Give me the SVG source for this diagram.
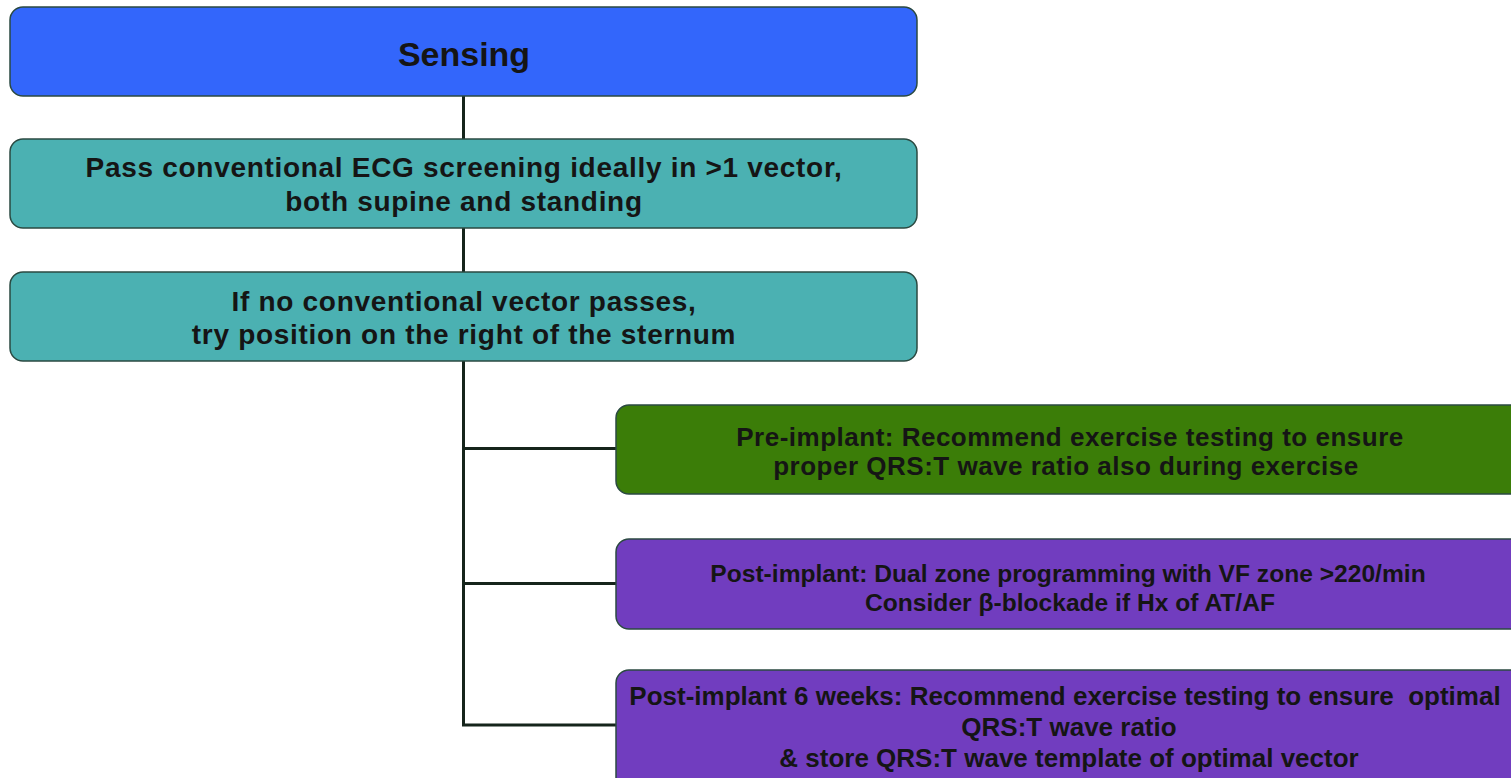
<svg xmlns="http://www.w3.org/2000/svg" width="1511" height="778" viewBox="0 0 1511 778">
<style>
.box{stroke:#2b4a42;stroke-width:1.5}
.t{font-family:"Liberation Sans",Arial,sans-serif;font-weight:bold;fill:#151515;text-anchor:middle}
.m{font-size:28px;letter-spacing:0.7px}
.c{fill:none;stroke:#15241b;stroke-width:3}
</style>
<rect width="1511" height="778" fill="#fff"/>
<g id="connectors">
<line class="c" x1="463.5" y1="96" x2="463.5" y2="139"/>
<line class="c" x1="463.5" y1="228" x2="463.5" y2="272"/>
<path class="c" d="M463.5 361 V725 H616 M463.5 448.5 H616 M463.5 583.5 H616"/>
</g>
<g id="sensing">
<rect class="box" x="10" y="7" width="907" height="89" rx="13" fill="#3366fb"/>
<text class="t" x="464" y="66" font-size="34">Sensing</text>
</g>
<g id="screening">
<rect class="box" x="10" y="139" width="907" height="89" rx="13" fill="#4bb1b2"/>
<text class="t m" x="464" y="177">Pass conventional ECG screening ideally in &gt;1 vector,</text>
<text class="t m" x="464" y="211">both supine and standing</text>
</g>
<g id="right-sternum">
<rect class="box" x="10" y="272" width="907" height="89" rx="13" fill="#4bb1b2"/>
<text class="t m" x="464" y="311">If no conventional vector passes,</text>
<text class="t m" x="464" y="344">try position on the right of the sternum</text>
</g>
<g id="pre-implant">
<rect class="box" x="616" y="405" width="910" height="89" rx="13" fill="#3b7d08"/>
<text class="t" x="1070" y="446" font-size="26" letter-spacing="0.5">Pre-implant: Recommend exercise testing to ensure</text>
<text class="t" x="1066" y="475" font-size="26" letter-spacing="0.5">proper QRS:T wave ratio also during exercise</text>
</g>
<g id="post-implant">
<rect class="box" x="616" y="539" width="910" height="90" rx="13" fill="#713dbf"/>
<text class="t" x="1068" y="582" font-size="24.6">Post-implant: Dual zone programming with VF zone &gt;220/min</text>
<text class="t" x="1070" y="611" font-size="24.6">Consider β-blockade if Hx of AT/AF</text>
</g>
<g id="post-implant-6w">
<rect class="box" x="616" y="670" width="910" height="120" rx="13" fill="#713dbf"/>
<text class="t" x="1065" y="705" font-size="26" xml:space="preserve">Post-implant 6 weeks: Recommend exercise testing to ensure  optimal</text>
<text class="t" x="1069" y="736" font-size="26">QRS:T wave ratio</text>
<text class="t" x="1069" y="767" font-size="26">&amp; store QRS:T wave template of optimal vector</text>
</g>
</svg>
